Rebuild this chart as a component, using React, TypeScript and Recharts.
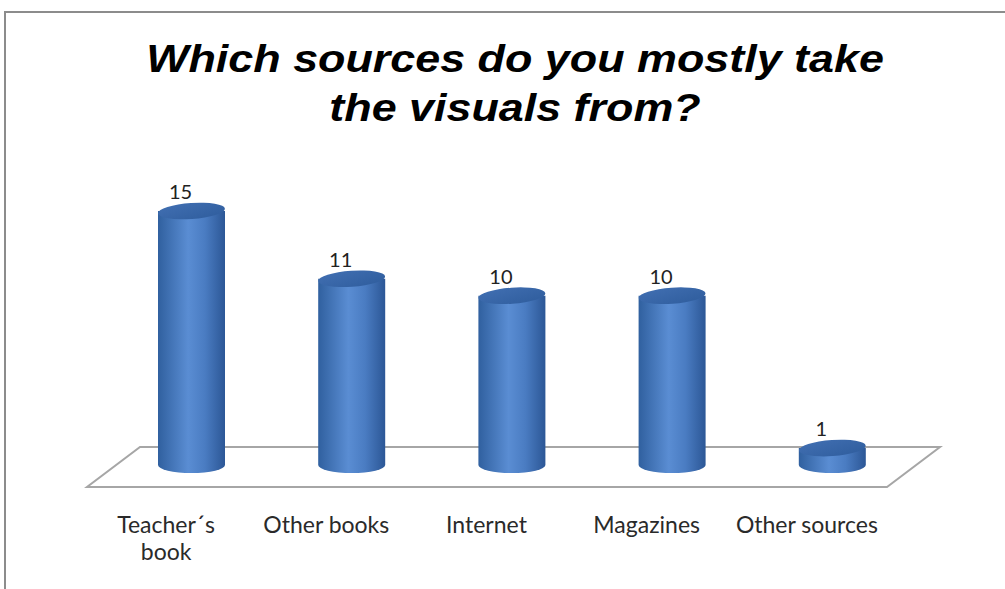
import { Bar, BarChart, LabelList, ReferenceArea, XAxis, YAxis } from "recharts";

const categories = ["Teacher´s book", "Other books", "Internet", "Magazines", "Other sources"];
const counts = [15, 11, 10, 10, 1];
const titleLines = ["Which sources do you mostly take", "the visuals from?"];

const data = categories.map((name, i) => ({ name, count: counts[i] }));

const labelFont = "Lato, 'Open Sans', sans-serif";

function Cylinder(props: any) {
  const { x, y, width, height } = props;
  const rx = width / 2;
  const ry = 8;
  const cx = x + rx;
  const bottom = y + height;
  return (
    <g>
      <path
        d={`M${x},${y} L${x},${bottom} A${rx},${ry} 0 0 0 ${x + width},${bottom} L${x + width},${y} Z`}
        fill="url(#cylBody)"
      />
      <ellipse cx={cx} cy={y} rx={rx} ry={ry} fill="url(#cylTop)" transform={`rotate(-4 ${cx} ${y})`} />
    </g>
  );
}

// floor plane drawn under the bars, skewed from the plot rect
function Floor(props: any) {
  const { x, y, width, height } = props;
  const base = y + height;
  const pts = [
    [x + 29, base - 18],
    [x + width + 28, base - 18],
    [x + width - 25, base + 22],
    [x - 24, base + 22],
  ];
  return <polygon points={pts.map((p) => p.join(",")).join(" ")} fill="#fff" stroke="#a6a6a6" strokeWidth={2} />;
}

function CategoryTick(props: any) {
  const { x, y, payload } = props;
  const lines: string[] = payload.value === "Teacher´s book" ? ["Teacher´s", "book"] : [payload.value];
  return (
    <text x={x - 25} y={y + 60} textAnchor="middle" fontFamily={labelFont} fontSize={23} fill="#2a2a2a">
      {lines.map((l, i) => (
        <tspan key={i} x={x - 25} dy={i === 0 ? 0 : 27}>
          {l}
        </tspan>
      ))}
    </text>
  );
}

function ValueLabel(props: any) {
  const { x, y, width, value } = props;
  return (
    <text x={x + width / 2 - 11} y={y - 12} textAnchor="middle" fontFamily={labelFont} fontSize={20} fill="#222">
      {value}
    </text>
  );
}

export default function App() {
  return (
    <div style={{ position: "absolute", left: 0, top: 0, width: 1005, height: 589, overflow: "hidden", background: "#fff" }}>
      <div
        style={{
          position: "absolute",
          left: 4,
          top: 11,
          width: 1020,
          height: 600,
          border: "2px solid #8c8c8c",
        }}
      />
      <div
        style={{
          position: "absolute",
          left: 0,
          top: 34,
          width: 1030,
          textAlign: "center",
          fontFamily: "'Liberation Sans', Arial, sans-serif",
          fontWeight: 700,
          fontStyle: "italic",
          fontSize: 39,
          lineHeight: "49px",
          color: "#000",
          transform: "scaleX(1.15)",
          transformOrigin: "515px 0",
        }}
      >
        {titleLines.map((t) => (
          <div key={t}>{t}</div>
        ))}
      </div>
      <div style={{ position: "absolute", left: 0, top: 0 }}>
        <BarChart width={1005} height={589} data={data} margin={{ top: 211, right: 93, left: 111, bottom: 94 }}>
          <defs>
            <linearGradient id="cylBody" x1="0" y1="0" x2="1" y2="0">
              <stop offset="0%" stopColor="#30609f" />
              <stop offset="45%" stopColor="#5a8dd3" />
              <stop offset="70%" stopColor="#4a7cc2" />
              <stop offset="100%" stopColor="#2c5796" />
            </linearGradient>
            <linearGradient id="cylTop" x1="0" y1="0" x2="1" y2="1">
              <stop offset="0%" stopColor="#416fb2" />
              <stop offset="100%" stopColor="#2f5d9d" />
            </linearGradient>
          </defs>
          <ReferenceArea y1={0} shape={<Floor />} ifOverflow="visible" isFront={false} />
          <XAxis dataKey="name" height={30} axisLine={false} tickLine={false} interval={0} tick={<CategoryTick />} />
          <YAxis hide domain={[0, 15]} />
          <Bar dataKey="count" barSize={67} shape={<Cylinder />} isAnimationActive={false}>
            <LabelList dataKey="count" content={<ValueLabel />} />
          </Bar>
        </BarChart>
      </div>
    </div>
  );
}
